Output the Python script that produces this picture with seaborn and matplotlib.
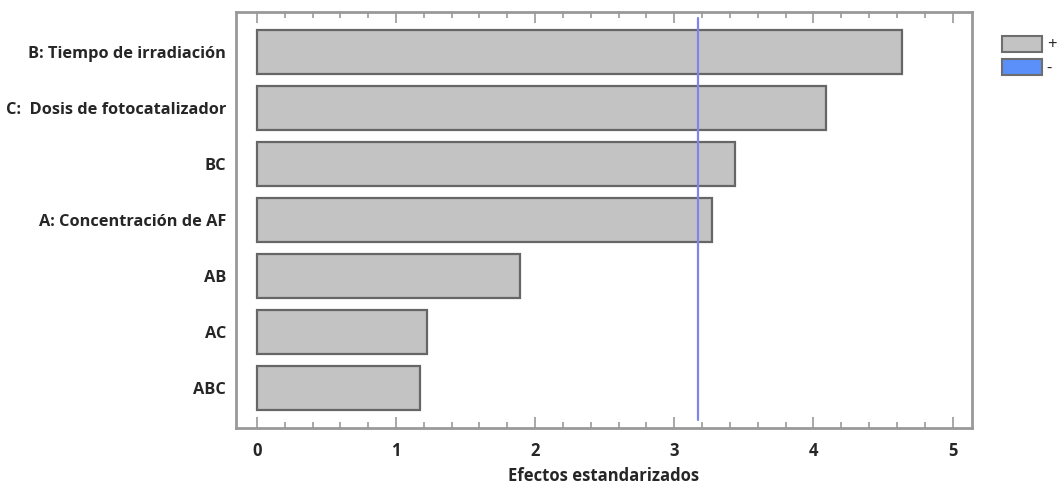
import numpy as np
import pandas as pd
import matplotlib
matplotlib.use('Agg')
import matplotlib.pyplot as plt
import seaborn as sns
from matplotlib.patches import Patch
from matplotlib.ticker import MultipleLocator

# efectos estandarizados (Pareto)
factores = ['B: Tiempo de irradiación', 'C:  Dosis de fotocatalizador', 'BC',
            'A: Concentración de AF', 'AB', 'AC', 'ABC']
efectos = [4.64, 4.09, 3.44, 3.27, 1.89, 1.22, 1.17]
limite = 3.17

sns.set_style('white')
plt.rcParams['font.family'] = ['Open Sans', 'DejaVu Sans']

df = pd.DataFrame({'Factor': factores, 'Efecto': efectos})

fig = plt.figure(figsize=(10.6, 4.84), dpi=100)
ax = fig.add_axes([236 / 1060, 56 / 484, 736 / 1060, 416 / 484])

sns.barplot(data=df, x='Efecto', y='Factor', orient='h', color='#c3c3c3',
            edgecolor='#666666', linewidth=1.6, width=0.78, saturation=1, ax=ax)
ax.axvline(limite, ymin=0.02, ymax=0.985, color='#7f84f0', lw=1.6)

ax.set_xlim(-0.15, 5.14)
ax.set_ylim(6.71, -0.71)
ax.xaxis.set_major_locator(MultipleLocator(1))
ax.xaxis.set_minor_locator(MultipleLocator(0.2))
ax.tick_params(axis='x', which='major', direction='in', length=8, width=1.2,
               color='#999999', top=True, bottom=True, labelsize=12, pad=10)
ax.tick_params(axis='x', which='minor', direction='in', length=4, width=1.2,
               color='#999999', top=True, bottom=True)
ax.tick_params(axis='y', length=0, labelsize=11.8, pad=7)
for lab in ax.get_xticklabels() + ax.get_yticklabels():
    lab.set_fontweight('bold')
ax.set_ylabel('')
ax.set_xlabel('Efectos estandarizados', fontsize=12, fontweight='bold', labelpad=5)
for s in ax.spines.values():
    s.set_color('#999999')
    s.set_linewidth(2)

handles = [Patch(facecolor='#c3c3c3', edgecolor='#6e6e6e', lw=1.5),
           Patch(facecolor='#5b8ff9', edgecolor='#6e6e6e', lw=1.5)]
fig.legend(handles, ['+', '-'], loc='upper left', bbox_to_anchor=(990 / 1060, 460 / 484),
           frameon=False, handlelength=2.4, handleheight=1.1, labelspacing=0.35,
           fontsize=12, handletextpad=0.3, borderpad=0.2)

fig.savefig('out.png', dpi=100)
